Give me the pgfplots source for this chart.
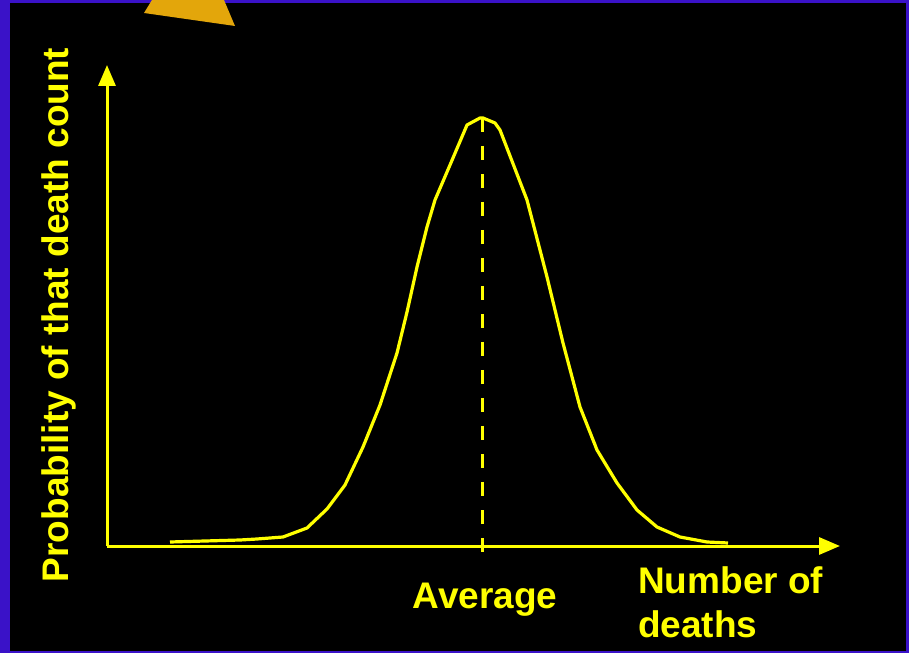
\documentclass[border=0pt]{standalone}
\usepackage{fontspec}
\setmainfont{Liberation Sans}
\usepackage{pgfplots}
\pgfplotsset{compat=1.18}
\usetikzlibrary{arrows.meta}

\definecolor{frameblue}{HTML}{3A12C8}
\definecolor{curveyel}{HTML}{FFFF00}
\definecolor{wedge}{HTML}{E3A60B}

\begin{document}
\begin{tikzpicture}[x=1pt,y=1pt]
\useasboundingbox (0,0) rectangle (909,653);
% frame and background
\fill[frameblue] (0,0) rectangle (909,653);
\fill[black] (10,2) rectangle (906,650);
\fill[wedge] (152,653) -- (144,640) -- (235,627) -- (224,653) -- cycle;

\begin{axis}[
  at={(107pt,107pt)}, anchor=south west,
  scale only axis,
  width=733pt, height=481pt,
  xmin=0, xmax=733, ymin=0, ymax=481,
  axis x line=bottom, axis y line=left,
  axis line style={curveyel, line width=3pt, -{Triangle[width=17pt,length=21pt]}},
  xtick=\empty, ytick=\empty,
  clip=false]
% bell curve
\addplot[curveyel, line width=3.2pt, line join=round] coordinates {
 (63,4) (133,6) (150,7) (176,9) (200,18) (220,37) (238,61) (256,99)
 (273,141) (290,193) (300,234) (310,279) (320,319) (328,346) (343,381)
 (360,421) (373,428) (376,428) (388,423) (393,416) (420,346) (440,269)
 (456,203) (473,139) (490,96) (510,63) (530,36) (550,19) (573,9)
 (600,4) (621,3)
};
% average marker
\addplot[curveyel, line width=3pt, dash pattern=on 14pt off 14pt] coordinates {
 (375,428) (375,-16)
};
\end{axis}

\node[curveyel, font=\bfseries\fontsize{37}{42}\selectfont, anchor=base] at (485,45) {Average};
\node[curveyel, font=\bfseries\fontsize{37}{42}\selectfont, anchor=base west, inner sep=0pt] at (638,60) {Number of};
\node[curveyel, font=\bfseries\fontsize{37}{42}\selectfont, anchor=base west, inner sep=0pt] at (638,16) {deaths};
\node[curveyel, font=\bfseries\fontsize{37}{42}\selectfont, rotate=90, anchor=center] at (59,338) {Probability of that death count};
\end{tikzpicture}
\end{document}
